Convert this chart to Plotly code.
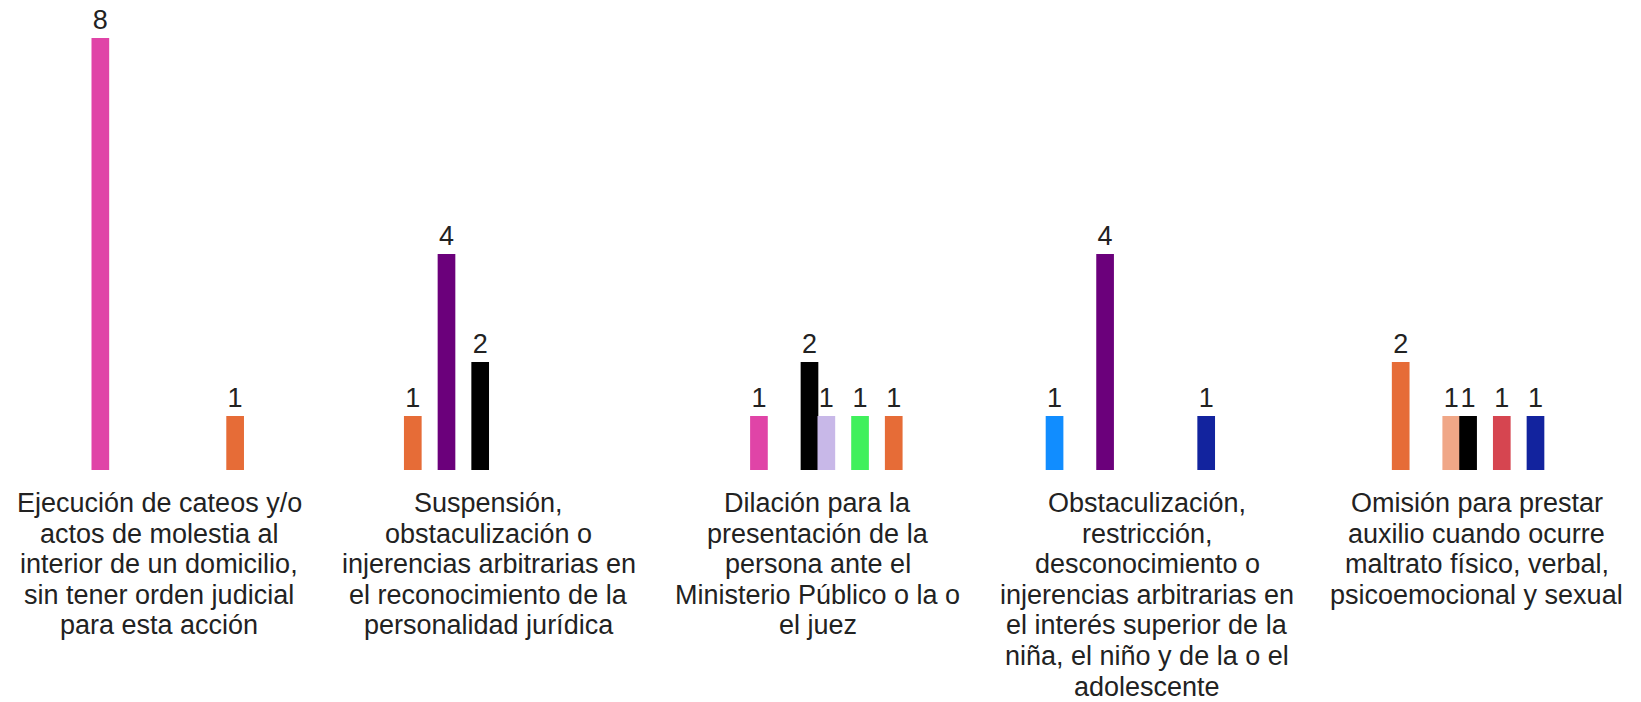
import plotly.graph_objects as go

categories = [
    "Ejecución de cateos y/o<br>actos de molestia al<br>interior de un domicilio,<br>sin tener orden judicial<br>para esta acción",
    "Suspensión,<br>obstaculización o<br>injerencias arbitrarias en<br>el reconocimiento de la<br>personalidad jurídica",
    "Dilación para la<br>presentación de la<br>persona ante el<br>Ministerio Público o la o<br>el juez",
    "Obstaculización,<br>restricción,<br>desconocimiento o<br>injerencias arbitrarias en<br>el interés superior de la<br>niña, el niño y de la o el<br>adolescente",
    "Omisión para prestar<br>auxilio cuando ocurre<br>maltrato físico, verbal,<br>psicoemocional y sexual",
]

serie_01 = [None, None, None, 1, None]
serie_02 = [None, 1, None, None, 2]
serie_03 = [8, None, 1, None, None]
serie_04 = [None, 4, None, 4, None]
serie_05 = [None, None, None, None, 1]
serie_06 = [None, 2, 2, None, 1]
serie_07 = [None, None, 1, None, None]
serie_08 = [None, None, None, None, 1]
serie_09 = [None, None, 1, None, None]
serie_10 = [None, None, None, 1, 1]
serie_11 = [1, None, 1, None, None]
serie_12 = [None, None, None, None, None]

series = [
    ("Serie 1", serie_01, "#118DFF"),
    ("Serie 2", serie_02, "#E66C37"),
    ("Serie 3", serie_03, "#E044A7"),
    ("Serie 4", serie_04, "#6B007B"),
    ("Serie 5", serie_05, "#F0A787"),
    ("Serie 6", serie_06, "#000000"),
    ("Serie 7", serie_07, "#C8B8E8"),
    ("Serie 8", serie_08, "#D64550"),
    ("Serie 9", serie_09, "#40F05C"),
    ("Serie 10", serie_10, "#12239E"),
    ("Serie 11", serie_11, "#E66C37"),
    ("Serie 12", serie_12, "#744EC2"),
]

FONT = "Liberation Sans, Arial"

fig = go.Figure()

for name, values, color in series:
    fig.add_trace(
        go.Bar(
            x=categories,
            y=values,
            name=name,
            marker=dict(color=color, line_width=0),
            width=0.0537,
            texttemplate="%{y}",
            textposition="outside",
            constraintext="none",
            cliponaxis=False,
            textfont=dict(family=FONT, size=27, color="#222222"),
        )
    )

# category labels, one annotation per line (tighter line spacing than ticks)
for cat in categories:
    for i, line in enumerate(cat.split("<br>")):
        fig.add_annotation(
            x=cat,
            y=0,
            xref="x",
            yref="y",
            text=line,
            showarrow=False,
            xanchor="center",
            yanchor="middle",
            yshift=-(33 + i * 30.6),
            font=dict(family=FONT, size=27, color="#222222"),
        )

fig.update_layout(
    barmode="group",
    bargap=0.386,
    bargroupgap=0,
    showlegend=False,
    plot_bgcolor="white",
    paper_bgcolor="white",
    width=1641,
    height=702,
    margin=dict(l=0, r=0, t=0, b=232, pad=0),
    font=dict(family=FONT, size=24, color="#222222"),
    xaxis=dict(
        range=[-0.4838, 4.4995],
        showgrid=False,
        zeroline=False,
        showline=False,
        ticks="",
        showticklabels=False,
    ),
    yaxis=dict(
        range=[0, 470 / 54],
        visible=False,
        showgrid=False,
    ),
)

fig.write_html(
    "out.html",
    config={"displayModeBar": False},
    post_script="document.body.style.margin='0';document.body.style.overflow='hidden';",
)
